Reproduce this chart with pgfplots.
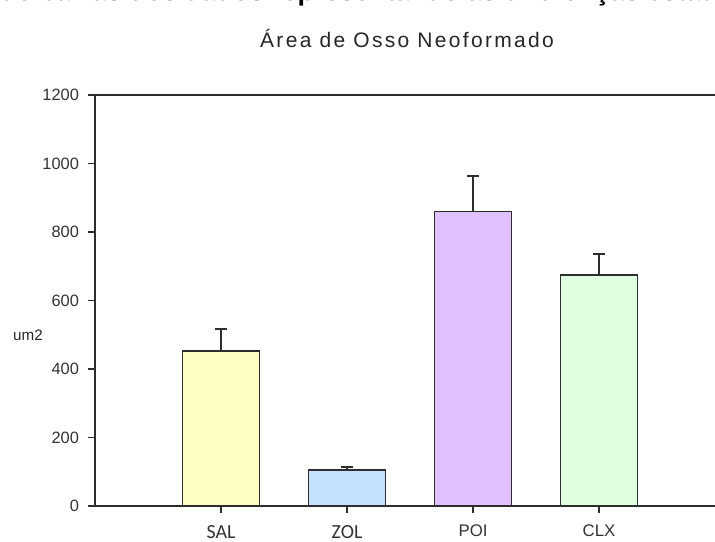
\documentclass[border=0pt]{standalone}
\usepackage{pgfplots}
\pgfplotsset{compat=1.18}
\usepackage{fontspec}
\setmainfont{Liberation Sans}
\newfontfamily\calib{Carlito}

\definecolor{salfill}{RGB}{255,255,196}
\definecolor{zolfill}{RGB}{196,226,255}
\definecolor{poifill}{RGB}{224,192,255}
\definecolor{clxfill}{RGB}{224,255,224}
\definecolor{edge}{RGB}{45,45,45}

\begin{document}
\begin{tikzpicture}
\useasboundingbox (0,0) rectangle (357.5pt,270.5pt);

% heading line, running off the top edge of the page
\node[anchor=base west, font=\fontsize{13.5}{16}\selectfont\bfseries, inner sep=0pt]
  at (-51pt,270pt) {Gráfico de barras dos dados representando as diferenças estatísticas};

\node[font=\fontsize{10.5}{12}\selectfont\addfontfeatures{LetterSpace=11}, text=black!85]
  at (203.5pt,251pt) {Área de Osso Neoformado};

\begin{axis}[
  at={(47.5pt,17.5pt)}, anchor=south west,
  scale only axis, width=310pt, height=205.5pt,
  xmin=0, xmax=4.92, ymin=0, ymax=1200,
  axis x line*=bottom, axis y line*=left,
  axis line style={-, line width=0.8pt, edge},
  ytick={0,200,...,1200},
  xtick={1,2,3,4},
  xticklabels={{\calib\fontsize{10}{12}\selectfont SAL},{\calib\fontsize{10}{12}\selectfont ZOL},POI,CLX},
  tick align=outside, major tick length=3.5pt,
  tick style={edge, line width=0.6pt},
  /pgf/number format/assume math mode=true,
  /pgf/number format/1000 sep={},
  yticklabel style={font=\fontsize{8.2}{9}\selectfont, text=black!80, xshift=-1pt},
  xticklabel style={font=\fontsize{8.4}{9}\selectfont, text=black!80, yshift=-2.5pt},
  clip=false,
]
\draw[edge, line width=0.8pt] (rel axis cs:0,1) -- (rel axis cs:1,1);

\pgfplotsset{barbase/.style={ybar, bar shift=0pt, bar width=38.5pt, draw=edge, line width=0.7pt,
  error bars/y dir=plus, error bars/y explicit,
  error bars/error bar style={edge, line width=0.8pt},
  error bars/error mark options={edge, line width=0.8pt, mark size=3pt, rotate=90}}}

\addplot[barbase, fill=salfill] coordinates {(1,452) +- (0,65)};
\addplot[barbase, fill=zolfill] coordinates {(2,105) +- (0,9)};
\addplot[barbase, fill=poifill] coordinates {(3,859) +- (0,105)};
\addplot[barbase, fill=clxfill] coordinates {(4,674) +- (0,62)};
\end{axis}

\node[font=\fontsize{7.6}{9}\selectfont, text=black!85] at (14pt,103pt) {um2};
\end{tikzpicture}
\end{document}
